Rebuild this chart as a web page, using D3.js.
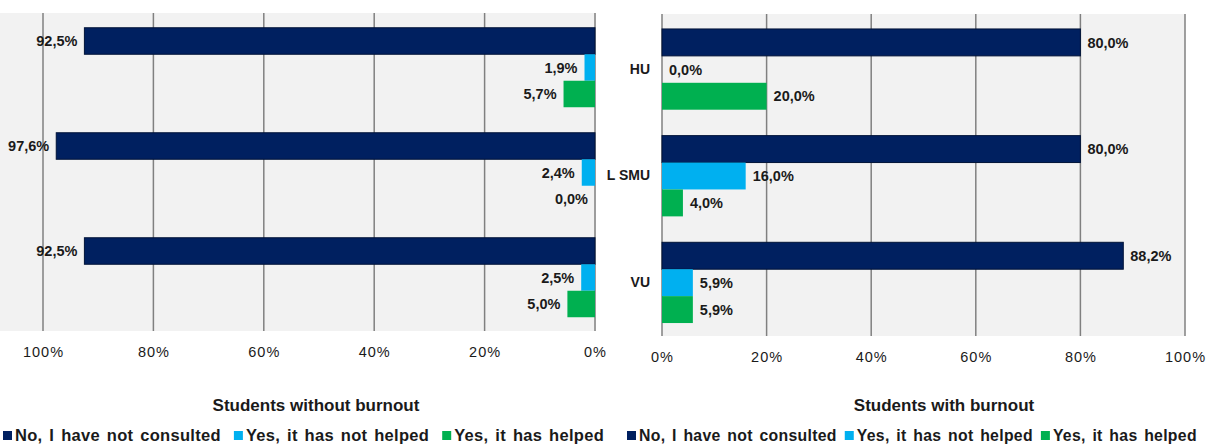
<!DOCTYPE html>
<html lang="en">
<head>
<meta charset="UTF-8">
<title>Consulted a specialist</title>
<script src="https://cdn.jsdelivr.net/npm/d3@7/dist/d3.min.js"></script>
<style>
  body { margin: 0; background: #fff; }
  text { font-family: "Liberation Sans", Arial, sans-serif; fill: #1a1a1a; }
</style>
</head>
<body>
<svg width="1210" height="448" id="mainsvg"></svg>
<script>
const categories = ['HU', 'L SMU', 'VU'];
const series = ['No, I have not consulted', 'Yes, it has not helped', 'Yes, it has helped'];
const withoutBurnout = [[92.5, 1.9, 5.7], [97.6, 2.4, 0.0], [92.5, 2.5, 5.0]];
const withBurnout = [[80.0, 0.0, 20.0], [80.0, 16.0, 4.0], [88.2, 5.9, 5.9]];
const tickValues = [0, 20, 40, 60, 80, 100];
const colors = ['#002060', '#00b0f0', '#00b050'];

const svg = d3.select('#mainsvg');
const fmt = v => v.toFixed(1).replace('.', ',') + '%';

const panels = [
  { values: withoutBurnout, title: 'Students without burnout', xr: [595, 43], yr: [15, 330], bg: [0, 596, 13, 331], dir: -1, showCats: false, titleX: 316, legendX: 3, legendFont: 16.5, legendGap: 13 },
  { values: withBurnout, title: 'Students with burnout', xr: [662, 1185], yr: [16, 336], bg: [662, 1185, 14, 336], dir: 1, showCats: true, titleX: 944, legendX: 627, legendFont: 15.8, legendGap: 8 }
];

panels.forEach(p => {
  const x = d3.scaleLinear().domain([0, 100]).range(p.xr);
  const y = d3.scaleBand().domain(categories).range(p.yr).paddingInner(0.243).paddingOuter(0.1215);
  const ys = d3.scaleBand().domain(series).range([0, y.bandwidth()]);
  const g = svg.append('g');

  g.append('rect')
    .attr('x', p.bg[0]).attr('y', p.bg[2])
    .attr('width', p.bg[1] - p.bg[0]).attr('height', p.bg[3] - p.bg[2])
    .attr('fill', '#f2f2f2');

  g.selectAll('.grid').data(tickValues).enter().append('line')
    .attr('x1', d => x(d)).attr('x2', d => x(d))
    .attr('y1', p.bg[2]).attr('y2', p.bg[3])
    .attr('stroke', '#808080').attr('stroke-width', 1.5);

  const rows = [];
  categories.forEach((c, i) => series.forEach((s, j) => rows.push({ c, s, j, v: p.values[i][j] })));

  g.selectAll('.bar').data(rows).enter().append('rect')
    .attr('x', d => Math.min(x(0), x(d.v)))
    .attr('width', d => Math.abs(x(d.v) - x(0)))
    .attr('y', d => y(d.c) + ys(d.s))
    .attr('height', ys.bandwidth())
    .attr('fill', d => colors[d.j])
    .attr('stroke', d => d.j === 0 && d.v > 0 ? '#001338' : 'none')
    .attr('stroke-width', 1);

  g.selectAll('.val').data(rows).enter().append('text')
    .attr('x', d => x(d.v) + p.dir * 7)
    .attr('y', d => y(d.c) + ys(d.s) + ys.bandwidth() / 2)
    .attr('dy', '0.36em')
    .attr('text-anchor', p.dir < 0 ? 'end' : 'start')
    .attr('font-size', 14.5).attr('font-weight', 'bold')
    .text(d => fmt(d.v));

  const xAxis = d3.axisBottom(x).tickValues(tickValues).tickSize(0).tickPadding(16).tickFormat(d => d + '%');
  const ax = g.append('g').attr('transform', `translate(0,${p.bg[3]})`).call(xAxis);
  ax.select('.domain').remove();
  ax.selectAll('text').attr('font-size', 14.5).attr('letter-spacing', 1)
    .attr('font-family', '"Liberation Sans", Arial, sans-serif').attr('fill', '#222');

  if (p.showCats) {
    const yAxis = d3.axisLeft(y).tickSize(0).tickPadding(12);
    const ay = g.append('g').attr('transform', `translate(${x(0)},0)`).call(yAxis);
    ay.select('.domain').remove();
    ay.selectAll('text').attr('font-size', 14).attr('font-weight', 'bold')
      .attr('font-family', '"Liberation Sans", Arial, sans-serif').attr('fill', '#1a1a1a');
  }

  g.append('text').attr('x', p.titleX).attr('y', 411)
    .attr('text-anchor', 'middle').attr('font-size', 17).attr('font-weight', 'bold')
    .text(p.title);

  // legend
  const lg = g.append('g').attr('transform', `translate(${p.legendX},441)`);
  let cx = 0;
  series.forEach((s, j) => {
    lg.append('rect').attr('x', cx).attr('y', -10).attr('width', 9).attr('height', 9).attr('fill', colors[j]);
    const t = lg.append('text').attr('x', cx + 12).attr('y', 0)
      .attr('font-size', p.legendFont).attr('font-weight', 'bold')
      .attr('letter-spacing', 0.3).attr('word-spacing', 2).text(s);
    cx += 12 + t.node().getComputedTextLength() + p.legendGap;
  });
});
</script>
</body>
</html>
